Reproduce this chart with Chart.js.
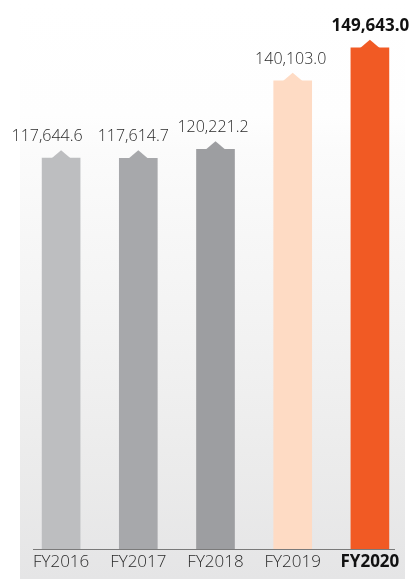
<!DOCTYPE html>
<html>
<head>
<meta charset="utf-8">
<script src="https://cdn.jsdelivr.net/npm/chart.js@4"></script>
<style>
html,body{margin:0;padding:0;background:#fff;}
#wrap{width:415px;height:579px;position:relative;}
</style>
</head>
<body>
<div id="wrap"><canvas id="c" width="415" height="579"></canvas></div>
<script>
const categories = ['FY2016', 'FY2017', 'FY2018', 'FY2019', 'FY2020'];
const values = [117644.6, 117614.7, 120221.2, 140103.0, 149643.0];
const valueLabels = ['117,644.6', '117,614.7', '120,221.2', '140,103.0', '149,643.0'];
const barColors = ['#bdbec0', '#a7a8ab', '#9d9ea1', '#fedbc4', '#f15a24'];
const highlightIndex = 4;

// horizontal nudge of the value labels (layout only)
const labelShift = [-14, -5, -2.5, -2, 0.5];

const bgPlugin = {
  id: 'bg',
  beforeDraw(chart) {
    const ctx = chart.ctx;
    const g = ctx.createLinearGradient(0, 0, 0, 579);
    g.addColorStop(0, '#ffffff');
    g.addColorStop(0.2, '#fefefe');
    g.addColorStop(0.26, '#fbfbfb');
    g.addColorStop(0.55, '#f3f3f3');
    g.addColorStop(0.78, '#ececec');
    g.addColorStop(1, '#e5e5e6');
    ctx.save();
    ctx.fillStyle = g;
    ctx.fillRect(20, 0, 385, 579);
    ctx.restore();
  }
};

const arrowPlugin = {
  id: 'arrows',
  afterDatasetsDraw(chart) {
    const ctx = chart.ctx;
    const meta = chart.getDatasetMeta(0);
    const area = chart.chartArea;
    ctx.save();
    meta.data.forEach((bar, i) => {
      const x = bar.x, y = bar.y;
      ctx.fillStyle = barColors[i];
      ctx.beginPath();
      ctx.moveTo(x - 10, y + 0.5);
      ctx.lineTo(x, y - 8);
      ctx.lineTo(x + 10, y + 0.5);
      ctx.closePath();
      ctx.fill();
      const hi = i === highlightIndex;
      ctx.font = (hi ? 'bold 17px ' : '300 16px ') + '"Open Sans", sans-serif';
      ctx.fillStyle = hi ? '#111111' : '#2a2a2a';
      ctx.textAlign = 'center';
      ctx.textBaseline = 'alphabetic';
      ctx.fillText(valueLabels[i], x + labelShift[i], y - 17);
    });
    ctx.strokeStyle = '#7a7a7a';
    ctx.lineWidth = 1;
    ctx.beginPath();
    ctx.moveTo(33, Math.round(area.bottom) + 0.5);
    ctx.lineTo(395, Math.round(area.bottom) + 0.5);
    ctx.stroke();
    ctx.restore();
  }
};

new Chart(document.getElementById('c'), {
  type: 'bar',
  data: {
    labels: categories,
    datasets: [{
      data: values,
      backgroundColor: barColors,
      borderWidth: 0,
      barThickness: 38
    }]
  },
  options: {
    responsive: false,
    maintainAspectRatio: false,
    animation: false,
    layout: { padding: { left: 22.5, right: 6.5, top: 0, bottom: 3.6 } },
    plugins: { legend: { display: false }, tooltip: { enabled: false } },
    scales: {
      y: { display: false, min: 4350, max: 163500 },
      x: {
        grid: { display: false, drawTicks: false },
        border: { display: false },
        ticks: {
          padding: 3,
          color: (c) => c.index === highlightIndex ? '#111111' : '#2a2a2a',
          font: (c) => ({
            family: '"Open Sans", sans-serif',
            size: 17,
            weight: c.index === highlightIndex ? 'bold' : '300'
          })
        }
      }
    }
  },
  plugins: [bgPlugin, arrowPlugin]
});
</script>
</body>
</html>
